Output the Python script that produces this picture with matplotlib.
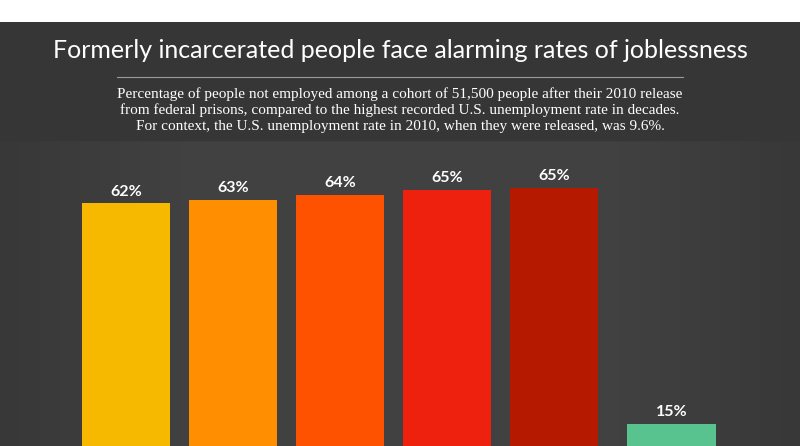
import numpy as np
import matplotlib
matplotlib.use("Agg")
import matplotlib.pyplot as plt
from matplotlib.patches import Rectangle

# data
values = [61.9, 62.6, 63.7, 64.8, 65.2, 15.0]
labels = ["62%", "63%", "64%", "65%", "65%", "15%"]
colors = ["#F7B900", "#FF8F00", "#FF5200", "#EE210E", "#B51A00", "#58C38F"]

title = "Formerly incarcerated people face alarming rates of joblessness"
subtitle = ("Percentage of people not employed among a cohort of 51,500 people after their 2010 release\n"
            "from federal prisons, compared to the highest recorded U.S. unemployment rate in decades.\n"
            "For context, the U.S. unemployment rate in 2010, when they were released, was 9.6%.")

fig = plt.figure(figsize=(8, 4.46), dpi=100)
fig.patch.set_facecolor("white")

# background with a soft vignette
bg = fig.add_axes([0, 0, 1, 1 - 22 / 446])
bg.set_axis_off()
xx, yy = np.meshgrid(np.linspace(-1, 1, 400), np.linspace(-1, 1, 220))
shade = 0.255 - 0.035 * np.clip(np.abs(xx) - 0.55, 0, None) / 0.45
img = np.dstack([shade, shade, shade])
bg.imshow(img, extent=[0, 1, 0, 1], aspect="auto", origin="lower")
# darker header band
hdr_h = (140 - 22) / (446 - 22)
bg.add_patch(Rectangle((0, 1 - hdr_h), 1, hdr_h, color="#363636", zorder=2))
bg.set_xlim(0, 1)
bg.set_ylim(0, 1)

# bars
gap = 0.1
pos = [i + (gap if i == len(values) - 1 else 0) for i in range(len(values))]
ax = fig.add_axes([0, 0, 1, (446 - 140) / 446])
ax.set_facecolor("none")
ax.bar(pos, values, width=0.825, color=colors)
for p, v, lab in zip(pos, values, labels):
    ax.annotate(lab, (p, v), xytext=(0, 3.5), textcoords="offset points",
                ha="center", va="bottom", color="white", fontsize=11.5,
                fontweight="bold", family="Lato")
ax.set_xlim(-1.178, 6.30)
ax.set_ylim(10.3, 75.4)
ax.set_axis_off()

# header text
fig.text(0.5, 1 - 51 / 446, title, ha="center", va="center", color="white",
         fontsize=18, family="Lato")
fig.add_artist(plt.Line2D([117 / 800, 683 / 800], [1 - 77 / 446, 1 - 77 / 446],
                          color="#9a9a9a", lw=0.8))
fig.text(0.5, 1 - 110 / 446, subtitle, ha="center", va="center", color="white",
         fontsize=11, family="Liberation Serif", linespacing=1.28)

fig.savefig("out.png", dpi=100, facecolor=fig.get_facecolor())
